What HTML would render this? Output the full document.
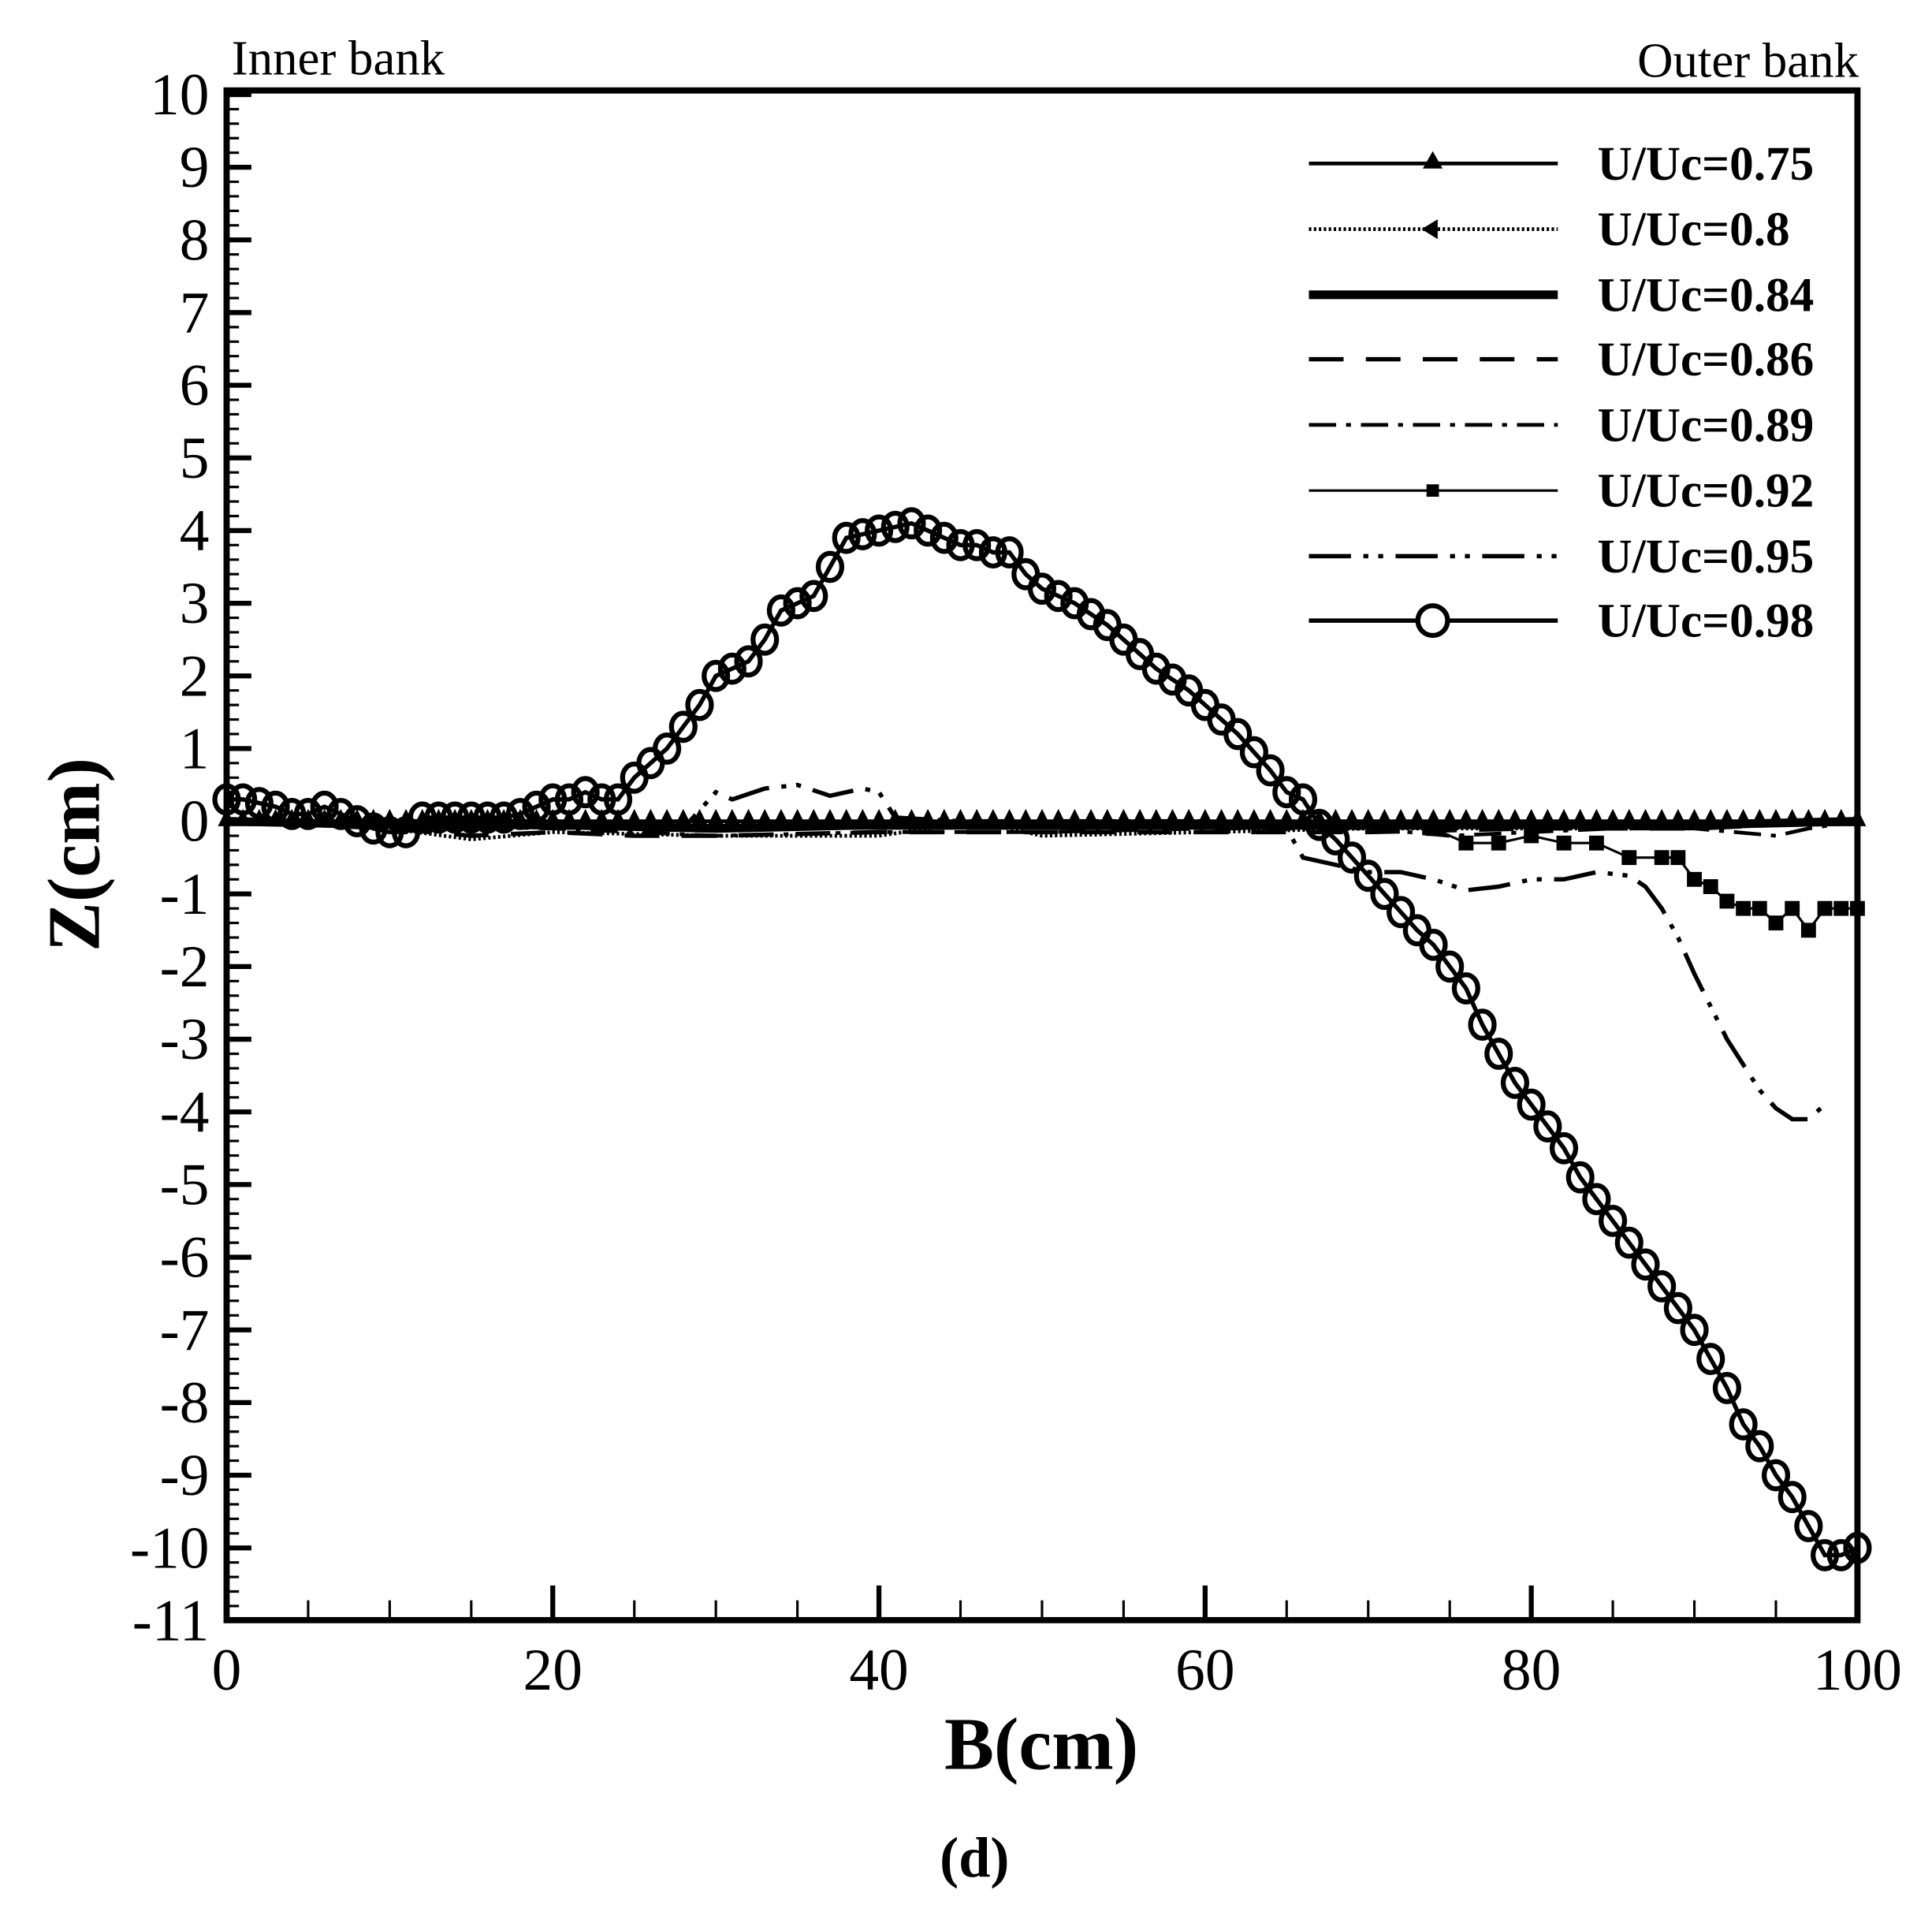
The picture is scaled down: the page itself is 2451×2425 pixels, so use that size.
<!DOCTYPE html>
<html><head><meta charset="utf-8"><style>
html,body{margin:0;padding:0;background:#fff;}
svg{display:block;}
text{font-family:"Liberation Serif",serif;fill:#000;}
</style></head><body>
<svg id="chart" width="2451" height="2425" viewBox="0 0 1560.2 1543.6" xmlns="http://www.w3.org/2000/svg">
<g id="axes"></g>
<g id="series"></g>
<g id="legend"></g>
<text x="187" y="60" font-size="40">Inner bank</text>
<text x="1501" y="62" font-size="40" text-anchor="end">Outer bank</text>
<text x="841" y="1428" font-size="60" font-weight="bold" text-anchor="middle">B(cm)</text>
<text transform="translate(80,690) rotate(-90)" font-size="60" font-weight="bold" text-anchor="middle">Z(cm)</text>
<text x="787" y="1515" font-size="46" font-weight="bold" text-anchor="middle">(d)</text>
</svg>
<script>
const xTicks=[0,20,40,60,80,100];
const yTicks=[10,9,8,7,6,5,4,3,2,1,0,-1,-2,-3,-4,-5,-6,-7,-8,-9,-10,-11];
const legendLabels=["U/Uc=0.75","U/Uc=0.8","U/Uc=0.84","U/Uc=0.86","U/Uc=0.89","U/Uc=0.92","U/Uc=0.95","U/Uc=0.98"];
const s098=[0.3,0.3,0.25,0.2,0.1,0.1,0.2,0.1,0.0,-0.1,-0.15,-0.15,0.05,0.05,0.05,0.05,0.05,0.05,0.1,0.2,0.3,0.3,0.4,0.3,0.3,0.6,0.8,1.0,1.3,1.6,2.0,2.1,2.2,2.5,2.9,3.0,3.1,3.5,3.9,3.95,4.0,4.05,4.1,4.0,3.9,3.8,3.8,3.7,3.7,3.4,3.2,3.1,3.0,2.85,2.7,2.5,2.3,2.1,1.95,1.8,1.6,1.4,1.2,0.95,0.7,0.4,0.3,-0.05,-0.25,-0.5,-0.75,-1.0,-1.25,-1.5,-1.7,-2.0,-2.3,-2.8,-3.2,-3.6,-3.9,-4.2,-4.5,-4.9,-5.2,-5.5,-5.8,-6.1,-6.4,-6.7,-7.0,-7.4,-7.8,-8.3,-8.6,-9.0,-9.3,-9.7,-10.1,-10.1,-10.0];
const x095=[0,10,20,28,30,31,33,35,37,39,40,41,45,50,55,60,65,66,68,70,72,74,76,78,80,82,84,86,87,88,89,90,92,94,95,96,97,98];
const s095=[0,0,0,-0.1,0.4,0.3,0.45,0.5,0.35,0.45,0.4,0.05,0,0,0,0,-0.1,-0.5,-0.6,-0.7,-0.7,-0.8,-0.95,-0.9,-0.8,-0.8,-0.7,-0.75,-0.9,-1.2,-1.6,-2.1,-3.0,-3.7,-3.95,-4.1,-4.1,-3.9];
const x092=[0,10,20,30,40,50,60,70,74,76,78,80,82,84,86,88,89,90,91,92,93,94,95,96,97,98,99,100];
const s092=[0,-0.05,-0.1,-0.1,-0.1,-0.1,-0.1,-0.1,-0.1,-0.3,-0.3,-0.2,-0.3,-0.3,-0.5,-0.5,-0.5,-0.8,-0.9,-1.1,-1.2,-1.2,-1.4,-1.2,-1.5,-1.2,-1.2,-1.2];
const x089=[0,10,20,30,40,50,60,65,70,75,80,85,90,95,97,100];
const s089=[0,-0.05,-0.1,-0.2,-0.15,-0.15,-0.1,-0.1,-0.1,-0.2,-0.15,-0.1,-0.1,-0.2,-0.1,0];
const x086=[0,10,15,20,25,30,40,50,60,70,80,90,100];
const s086=[0,-0.1,-0.2,-0.15,-0.2,-0.2,-0.15,-0.15,-0.15,-0.15,-0.1,-0.1,0];
const x084=[0,10,20,30,40,50,60,70,80,90,100];
const s084=[0,-0.05,-0.05,-0.1,-0.05,-0.05,-0.05,-0.05,-0.05,-0.05,0];
const x080=[0,10,15,20,30,40,46,50,60,70,80,90,100];
const s080=[0,-0.1,-0.25,-0.15,-0.2,-0.2,0,-0.2,-0.15,-0.1,-0.1,-0.1,0];
const x075=[0,10,20,30,40,50,60,70,80,90,100];
const s075=[0,0,0,0,0,0,0,0,0,0,0];

const NS="http://www.w3.org/2000/svg";
const L=183,R=1500,T=76,B=1308,Y0=663;
const xs=v=>L+(v/100)*(R-L);
const ys=v=>Y0-v*((B-T)/21);
function mk(tag,parent,attrs){const e=document.createElementNS(NS,tag);for(const k in attrs)e.setAttribute(k,attrs[k]);parent.appendChild(e);return e;}
const ax=document.getElementById('axes');
let fr=mk('rect',ax,{x:L,y:T-3,width:R-L,height:B-T+3,fill:'none',stroke:'#000','stroke-width':5});


for(let v=-11;v<=10.001;v+=0.2){
  const major=Math.abs(v-Math.round(v))<1e-6;
  const t=mk('line',ax,{x1:L,x2:L+(major?20:10),y1:ys(v),y2:ys(v),stroke:'#000','stroke-width':major?4:2});
  
  
}
yTicks.forEach(v=>{
  const t=mk('text',ax,{x:L-14,y:ys(v)+16,'font-size':48,'text-anchor':'end'});
  t.textContent=String(v);
  
  
});
for(let v=0;v<=100;v+=5){
  const major=v%20===0;
  const t=mk('line',ax,{x1:xs(v),x2:xs(v),y1:B,y2:B-(major?28:16),stroke:'#000','stroke-width':major?4:2});
  
  
}
xTicks.forEach(v=>{
  const t=mk('text',ax,{x:xs(v),y:1364,'font-size':48,'text-anchor':'middle'});
  t.textContent=String(v);
  
  
});
const sg=document.getElementById('series');
function pts(xa,ya){return xa.map((x,i)=>xs(x)+','+ys(ya[i])).join(' ');}
const idx=s098.map((_,i)=>i);
const styles=[
 {xa:x075,ya:s075,w:3,dash:null,name:'series-0.75'},
 {xa:x080,ya:s080,w:3,dash:'2 2',name:'series-0.8'},
 {xa:x084,ya:s084,w:7,dash:null,name:'series-0.84'},
 {xa:x086,ya:s086,w:3.5,dash:'28 18',name:'series-0.86'},
 {xa:x089,ya:s089,w:3,dash:'22 8 4 8',name:'series-0.89'},
 {xa:x092,ya:s092,w:2,dash:null,name:'series-0.92'},
 {xa:x095,ya:s095,w:3.5,dash:'34 10 4 8 4 10',name:'series-0.95'},
 {xa:idx,ya:s098,w:3.5,dash:null,name:'series-0.98'}
];
styles.forEach(s=>{
  const p=mk('polyline',sg,{points:pts(s.xa,s.ya),fill:'none',stroke:'#000','stroke-width':s.w});
  if(s.dash)p.setAttribute('stroke-dasharray',s.dash);
  
  
});
for(let x=0;x<=100;x+=1){
  const cx=xs(x),cy=ys(0);
  const t=mk('polygon',sg,{points:`${cx},${cy-10} ${cx-7},${cy+4} ${cx+7},${cy+4}`,fill:'#000'});
  
  
}
x092.forEach((x,i)=>{if(x<74)return;
  const r=mk('rect',sg,{x:xs(x)-6,y:ys(s092[i])-6,width:12,height:12,fill:'#000'});
  
  
});
s098.forEach((v,i)=>{
  const c=mk('ellipse',sg,{cx:xs(i),cy:ys(v),rx:9.5,ry:11,fill:'none',stroke:'#000','stroke-width':4});
  
  
});
const lg=document.getElementById('legend');
const rowsY=[132,185,238,290,343,396,449,501];
legendLabels.forEach((lab,i)=>{
  const s=styles[i],y=rowsY[i];
  const l=mk('line',lg,{x1:1057,x2:1258,y1:y,y2:y,stroke:'#000','stroke-width':s.w});
  if(s.dash)l.setAttribute('stroke-dasharray',s.dash);
  
  
  const mx=1157;
  if(i===0){const m=mk('polygon',lg,{points:`${mx},${y-10} ${mx-8},${y+4} ${mx+8},${y+4}`,fill:'#000'});}
  if(i===1){const m=mk('polygon',lg,{points:`${mx-9},${y} ${mx+4},${y-8} ${mx+4},${y+8}`,fill:'#000'});}
  if(i===5){const m=mk('rect',lg,{x:mx-5,y:y-5,width:10,height:10,fill:'#000'});}
  if(i===7){const m=mk('circle',lg,{cx:mx,cy:y,r:12,fill:'#fff',stroke:'#000','stroke-width':4});}
  const t=mk('text',lg,{x:1290,y:y+13,'font-size':39,'font-weight':'bold'});
  t.textContent=lab;
  
  
});
</script>
</body></html>
